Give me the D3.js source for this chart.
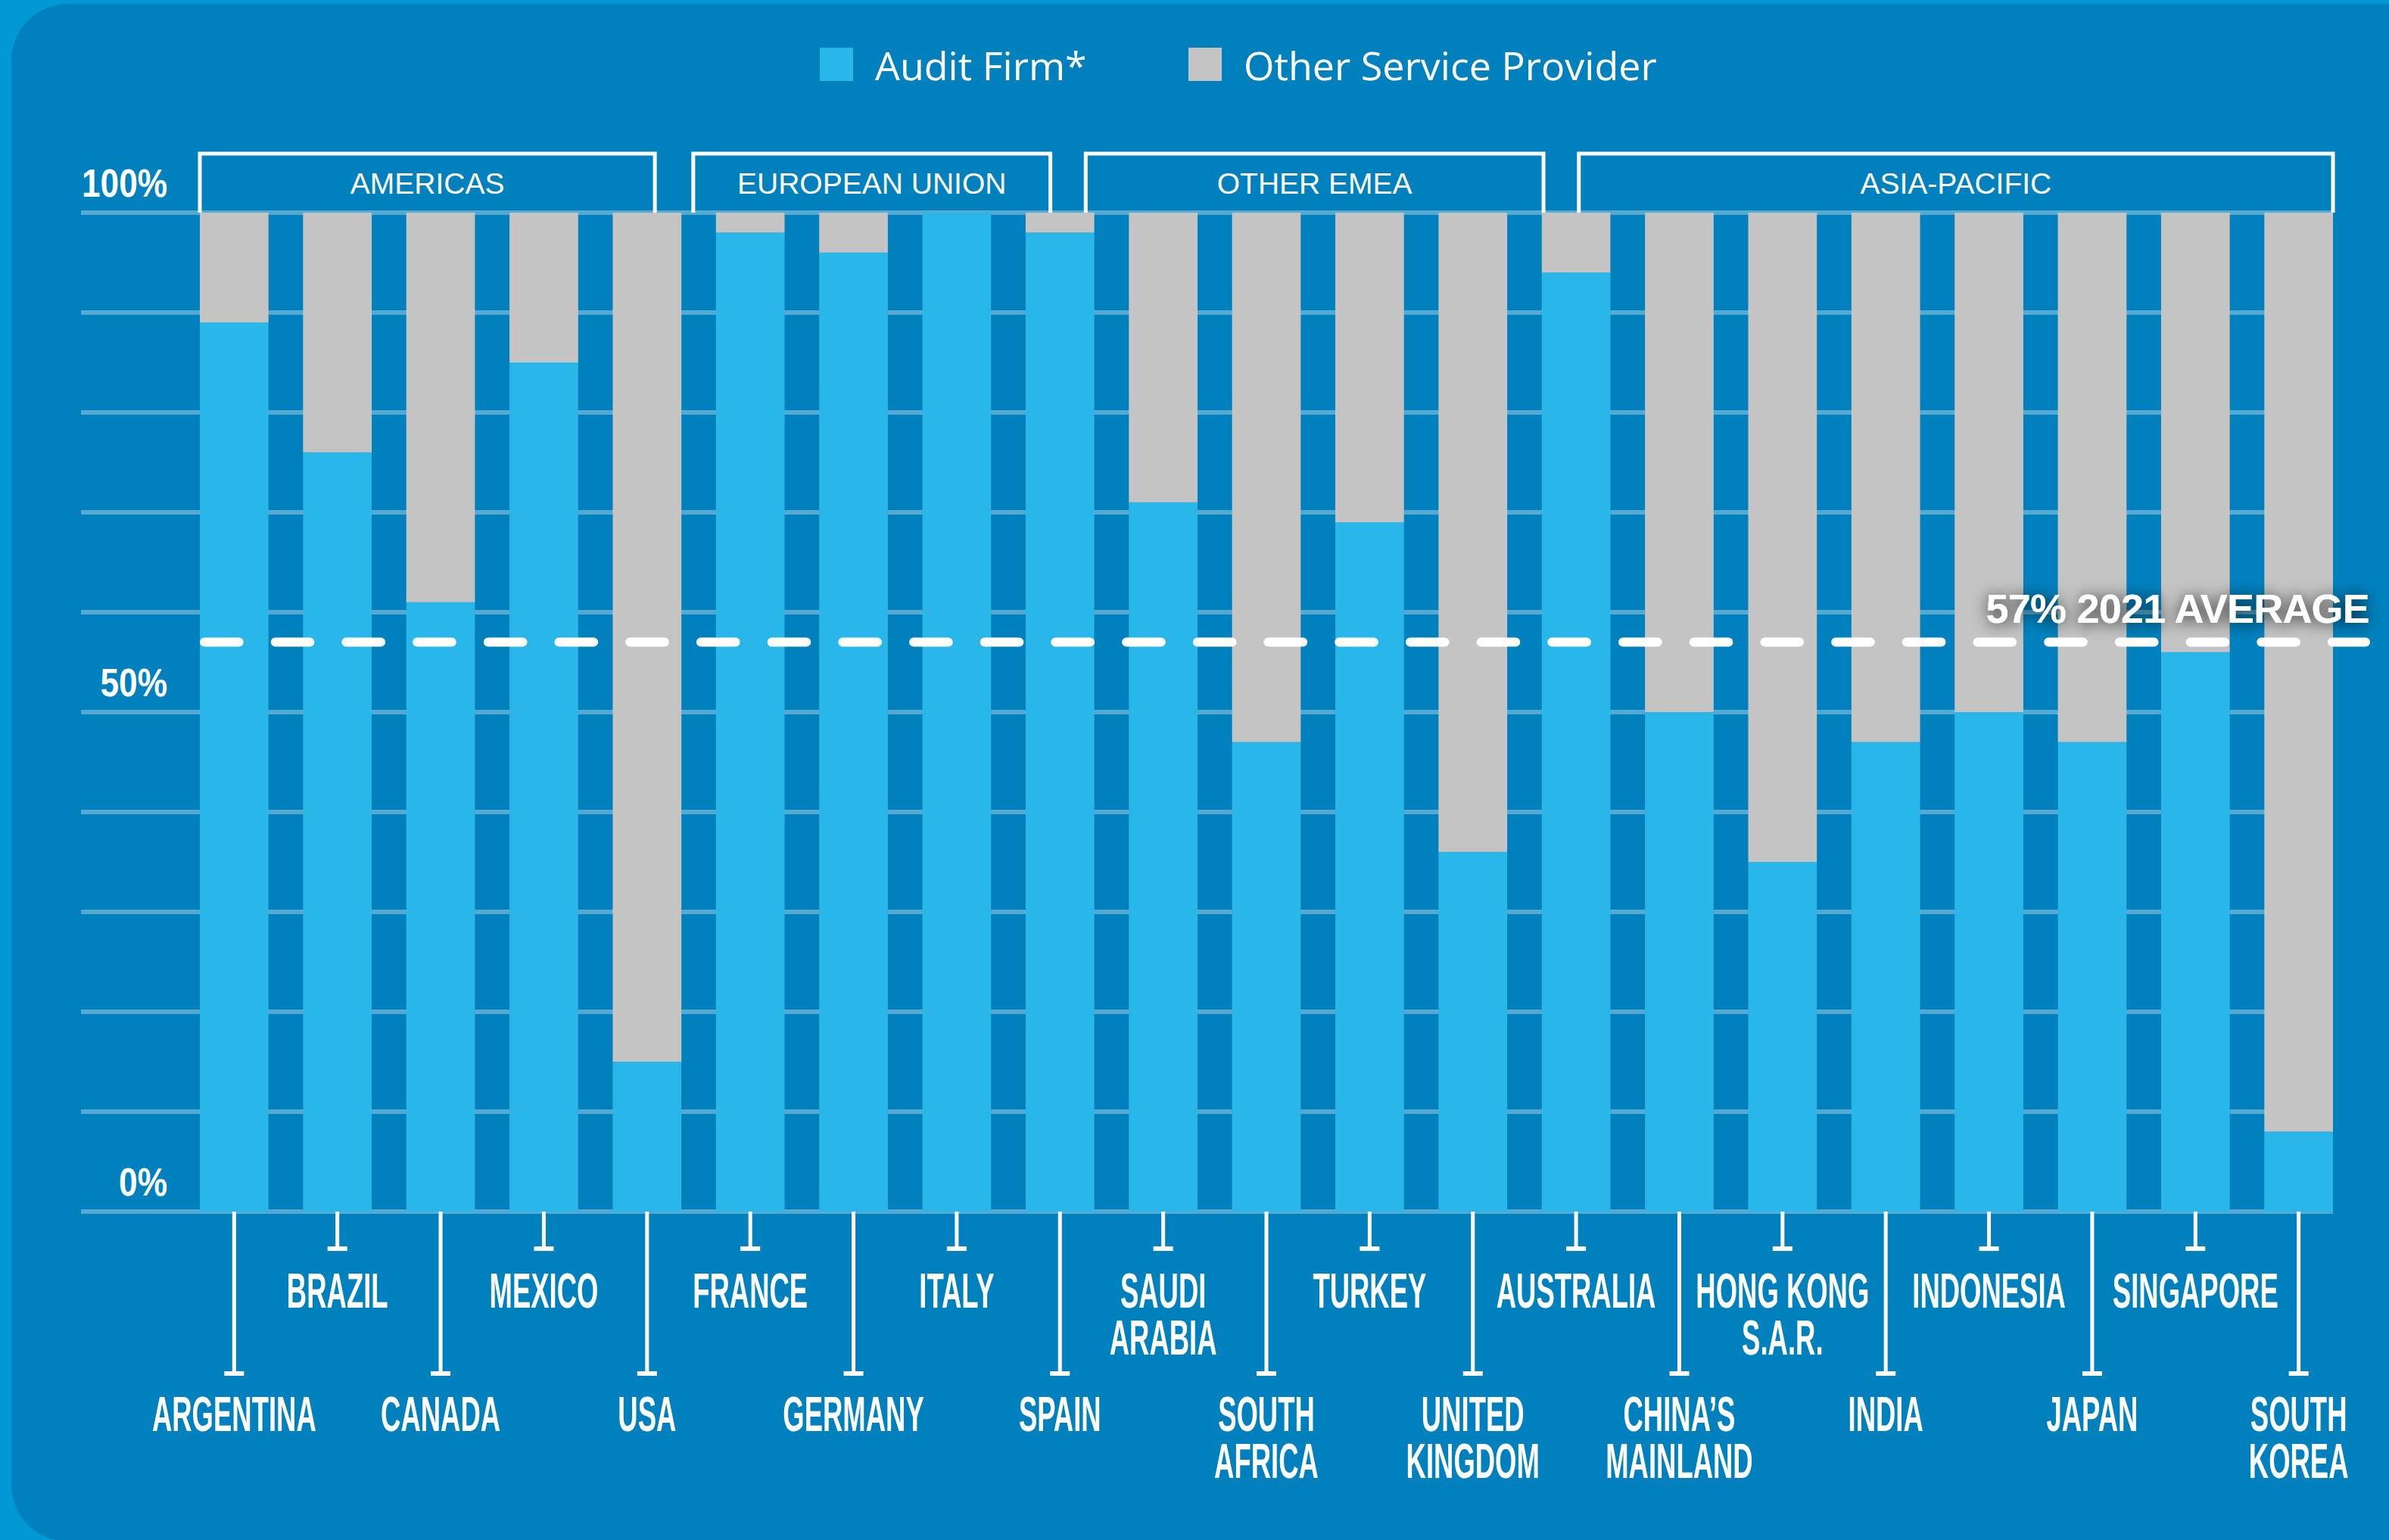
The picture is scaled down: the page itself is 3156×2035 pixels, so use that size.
<!DOCTYPE html>
<html>
<head>
<meta charset="utf-8">
<script src="https://cdn.jsdelivr.net/npm/d3@7"></script>
<style>
  html, body { margin: 0; padding: 0; background: #0099d6; overflow: hidden; }
  svg { display: block; }
</style>
</head>
<body>
<svg id="chart" width="3156" height="2035"></svg>
<script>
// Share of engagements by provider type, per market (percent)
const categories = [
  "ARGENTINA", "BRAZIL", "CANADA", "MEXICO", "USA",
  "FRANCE", "GERMANY", "ITALY", "SPAIN",
  "SAUDI\nARABIA", "SOUTH\nAFRICA", "TURKEY", "UNITED\nKINGDOM",
  "AUSTRALIA", "CHINA’S\nMAINLAND", "HONG KONG\nS.A.R.", "INDIA",
  "INDONESIA", "JAPAN", "SINGAPORE", "SOUTH\nKOREA"
];
const auditFirm = [89, 76, 61, 85, 15, 98, 96, 100, 98, 71, 47, 69, 36, 94, 50, 35, 47, 50, 47, 56, 8];
const otherProvider = [11, 24, 39, 15, 85, 2, 4, 0, 2, 29, 53, 31, 64, 6, 50, 65, 53, 50, 53, 44, 92];

const seriesKeys = ["audit", "other"];
const seriesNames = ["Audit Firm*", "Other Service Provider"];

const regionNames = ["AMERICAS", "EUROPEAN UNION", "OTHER EMEA", "ASIA-PACIFIC"];
const regionFirst = ["ARGENTINA", "FRANCE", "SAUDI\nARABIA", "AUSTRALIA"];
const regionLast = ["USA", "SPAIN", "UNITED\nKINGDOM", "SOUTH\nKOREA"];

const gridValues = [0, 10, 20, 30, 40, 50, 60, 70, 80, 90, 100];
const tickValues = [0, 50, 100];
const tickLabels = ["0%", "50%", "100%"];

const averageValue = 57;
const averageLabel = "57% 2021 AVERAGE";

// ---- styling ----
const colors = { audit: "#29b6e9", other: "#c5c4c5" };
const panelFill = "#0081bd";
const W = 3156, H = 2035;

const svg = d3.select("#chart");

const defs = svg.append("defs");
const shadow = defs.append("filter").attr("id", "avgShadow")
  .attr("x", "-20%").attr("y", "-80%").attr("width", "140%").attr("height", "260%");
shadow.append("feDropShadow")
  .attr("dx", 0).attr("dy", 2).attr("stdDeviation", 10)
  .attr("flood-color", "#000").attr("flood-opacity", 0.8);

// panel
svg.append("rect").attr("width", W).attr("height", H).attr("fill", "#0099d6");
svg.append("rect")
  .attr("x", 15).attr("y", 5).attr("width", W + 100).attr("height", H - 3)
  .attr("rx", 75).attr("ry", 75).attr("fill", panelFill);

// scales
const x = d3.scaleBand().domain(categories).range([264, 3082])
  .paddingInner(0.335).paddingOuter(0);
const y = d3.scaleLinear().domain([0, 100]).range([1601, 281]);
const bw = x.bandwidth();

// gridlines
svg.append("g").selectAll("line").data(gridValues).join("line")
  .attr("x1", 107).attr("x2", x.range()[1])
  .attr("y1", d => y(d)).attr("y2", d => y(d))
  .attr("stroke", "rgba(255,255,255,0.33)").attr("stroke-width", 6);

// y tick labels
svg.append("g").selectAll("text").data(tickValues).join("text")
  .attr("transform", d => `translate(221,${y(d) - 21}) scale(0.85,1)`)
  .attr("text-anchor", "end")
  .attr("font-family", "'Liberation Sans', Arial, sans-serif")
  .attr("font-weight", "bold").attr("font-size", 52).attr("fill", "#fff")
  .text((d, i) => tickLabels[i]);

// stacked bars
const table = categories.map((c, i) => ({ category: c, audit: auditFirm[i], other: otherProvider[i] }));
const stacked = d3.stack().keys(seriesKeys)(table);

svg.append("g").selectAll("g").data(stacked).join("g")
  .attr("fill", d => colors[d.key])
  .selectAll("rect").data(d => d).join("rect")
  .attr("x", d => x(d.data.category))
  .attr("width", bw)
  .attr("y", d => y(d[1]))
  .attr("height", d => y(d[0]) - y(d[1]));

// region boxes (open at the bottom, resting on the 100% line)
const boxShift = [[0, -35], [-30, -58], [-57, 48], [49, 0]];
const boxTop = 203;
const regionG = svg.append("g");
regionNames.forEach((name, i) => {
  const left = x(regionFirst[i]) + boxShift[i][0];
  const right = x(regionLast[i]) + bw + boxShift[i][1];
  regionG.append("path")
    .attr("d", `M${left},${y(100)} V${boxTop} H${right} V${y(100)}`)
    .attr("fill", "none").attr("stroke", "#fff").attr("stroke-width", 5);
  regionG.append("text")
    .attr("x", (left + right) / 2).attr("y", 256)
    .attr("text-anchor", "middle")
    .attr("font-family", "'Liberation Sans', Arial, sans-serif")
    .attr("font-size", 39).attr("fill", "#fff")
    .text(name);
});

// average line
const avgY = y(averageValue);
svg.append("line")
  .attr("x1", 270).attr("x2", 3125)
  .attr("y1", avgY).attr("y2", avgY)
  .attr("stroke", "#fff").attr("stroke-width", 12)
  .attr("stroke-linecap", "round")
  .attr("stroke-dasharray", "45.7 48");

svg.append("text")
  .attr("x", 3130).attr("y", avgY - 26)
  .attr("text-anchor", "end")
  .attr("font-family", "'Liberation Sans', Arial, sans-serif")
  .attr("font-weight", "bold").attr("font-size", 54)
  .attr("letter-spacing", -0.8)
  .attr("fill", "#fff")
  .attr("filter", "url(#avgShadow)")
  .text(averageLabel);

// category leaders and labels, alternating between two rows
const rowEnd = [1818, 1653];
const rowBaseline = [1891, 1728];
const lineGap = 62;
const labelG = svg.append("g");
categories.forEach((c, i) => {
  const row = i % 2;
  const cx = x(c) + bw / 2;
  labelG.append("line")
    .attr("x1", cx).attr("x2", cx)
    .attr("y1", y(0)).attr("y2", rowEnd[row])
    .attr("stroke", "#fff").attr("stroke-width", 5);
  labelG.append("rect")
    .attr("x", cx - 13).attr("y", rowEnd[row] - 6)
    .attr("width", 26).attr("height", 6).attr("fill", "#fff");
  const t = labelG.append("text")
    .attr("transform", `translate(${cx},${rowBaseline[row]}) scale(0.57,1)`)
    .attr("text-anchor", "middle")
    .attr("font-family", "'Liberation Sans', Arial, sans-serif")
    .attr("font-weight", "bold").attr("font-size", 64).attr("fill", "#fff");
  c.split("\n").forEach((part, k) => {
    t.append("tspan").attr("x", 0).attr("dy", k === 0 ? 0 : lineGap).text(part);
  });
});

// legend
const legendX = [1083, 1570];
const legend = svg.append("g");
seriesKeys.forEach((k, i) => {
  legend.append("rect")
    .attr("x", legendX[i]).attr("y", 63).attr("width", 44).attr("height", 44)
    .attr("fill", colors[k]);
  legend.append("text")
    .attr("x", legendX[i] + 73).attr("y", 106)
    .attr("font-family", "'Open Sans', sans-serif")
    .attr("font-size", 52).attr("fill", "#fff")
    .text(seriesNames[i]);
});
</script>
</body>
</html>
